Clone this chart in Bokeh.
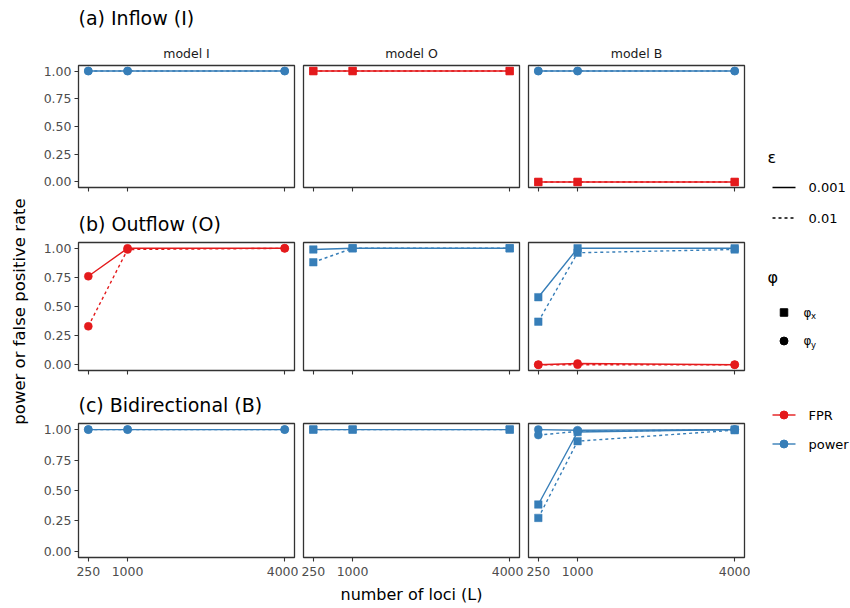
import math
from bokeh.plotting import figure
from bokeh.layouts import row, column
from bokeh.models import Range1d, FixedTicker, PrintfTickFormatter
from bokeh.core.properties import value
from bokeh.embed import file_html
from bokeh.resources import INLINE

# ---------------- data ----------------
L_VALUES = [250, 1000, 4000]
ROW_TITLES = ["(a) Inflow (I)", "(b) Outflow (O)", "(c) Bidirectional (B)"]
MODEL_LABELS = ["model I", "model O", "model B"]
EPS_LABELS = ["0.001", "0.01"]
METRIC_LABELS = ["FPR", "power"]
Y_TICKS = [0.0, 0.25, 0.5, 0.75, 1.0]
X_LABEL = "number of loci (L)"
Y_LABEL = "power or false positive rate"

# (a) Inflow (I)
a_I_power_phiy_e0001 = [1.00, 1.00, 1.00]
a_I_power_phiy_e001 = [1.00, 1.00, 1.00]
a_O_fpr_phix_e0001 = [1.00, 1.00, 1.00]
a_O_fpr_phix_e001 = [1.00, 1.00, 1.00]
a_B_power_phiy_e0001 = [1.00, 1.00, 1.00]
a_B_power_phiy_e001 = [1.00, 1.00, 1.00]
a_B_fpr_phix_e0001 = [0.00, 0.00, 0.00]
a_B_fpr_phix_e001 = [0.00, 0.00, 0.00]

# (b) Outflow (O)
b_I_fpr_phiy_e0001 = [0.76, 1.00, 1.00]
b_I_fpr_phiy_e001 = [0.33, 0.99, 1.00]
b_O_power_phix_e0001 = [0.99, 1.00, 1.00]
b_O_power_phix_e001 = [0.88, 1.00, 1.00]
b_B_power_phix_e0001 = [0.58, 1.00, 1.00]
b_B_power_phix_e001 = [0.37, 0.962, 0.99]
b_B_fpr_phiy_e0001 = [0.00, 0.01, 0.00]
b_B_fpr_phiy_e001 = [0.00, 0.00, 0.00]

# (c) Bidirectional (B)
c_I_power_phiy_e0001 = [1.00, 1.00, 1.00]
c_I_power_phiy_e001 = [1.00, 1.00, 1.00]
c_O_power_phix_e0001 = [1.00, 1.00, 1.00]
c_O_power_phix_e001 = [1.00, 1.00, 1.00]
c_B_power_phiy_e0001 = [1.00, 0.995, 1.00]
c_B_power_phiy_e001 = [0.955, 0.985, 1.00]
c_B_power_phix_e0001 = [0.385, 0.98, 1.00]
c_B_power_phix_e001 = [0.275, 0.905, 0.995]

# (row, column, metric, phi, epsilon, values)
SERIES = [
    (0, 0, "power", "y", "0.001", a_I_power_phiy_e0001),
    (0, 0, "power", "y", "0.01", a_I_power_phiy_e001),
    (0, 1, "FPR", "x", "0.001", a_O_fpr_phix_e0001),
    (0, 1, "FPR", "x", "0.01", a_O_fpr_phix_e001),
    (0, 2, "FPR", "x", "0.001", a_B_fpr_phix_e0001),
    (0, 2, "FPR", "x", "0.01", a_B_fpr_phix_e001),
    (0, 2, "power", "y", "0.001", a_B_power_phiy_e0001),
    (0, 2, "power", "y", "0.01", a_B_power_phiy_e001),
    (1, 0, "FPR", "y", "0.001", b_I_fpr_phiy_e0001),
    (1, 0, "FPR", "y", "0.01", b_I_fpr_phiy_e001),
    (1, 1, "power", "x", "0.001", b_O_power_phix_e0001),
    (1, 1, "power", "x", "0.01", b_O_power_phix_e001),
    (1, 2, "FPR", "y", "0.001", b_B_fpr_phiy_e0001),
    (1, 2, "FPR", "y", "0.01", b_B_fpr_phiy_e001),
    (1, 2, "power", "x", "0.001", b_B_power_phix_e0001),
    (1, 2, "power", "x", "0.01", b_B_power_phix_e001),
    (2, 0, "power", "y", "0.001", c_I_power_phiy_e0001),
    (2, 0, "power", "y", "0.01", c_I_power_phiy_e001),
    (2, 1, "power", "x", "0.001", c_O_power_phix_e0001),
    (2, 1, "power", "x", "0.01", c_O_power_phix_e001),
    (2, 2, "power", "x", "0.001", c_B_power_phix_e0001),
    (2, 2, "power", "x", "0.01", c_B_power_phix_e001),
    (2, 2, "power", "y", "0.001", c_B_power_phiy_e0001),
    (2, 2, "power", "y", "0.01", c_B_power_phiy_e001),
]

# ---------------- style ----------------
FONT = "DejaVu Sans"
COLORS = {"FPR": "#E41A1C", "power": "#377EB8"}
DASH = {"0.001": "solid", "0.01": "3 3"}
MARKER = {"x": "square", "y": "circle"}
MARKER_SIZE = {"x": 7.5, "y": 8}
LINE_W = 1.4
FRAME_COLOR = "#333333"
TICK_TEXT = "#4D4D4D"

FRAME_W = 216
FRAME_H = [122, 128, 134]
BORDER_L = [38, 5, 5]
BORDER_R = [4, 4, 6]
BORDER_T = 3
BORDER_B = [9, 8, 25]

# absolute layout (pixels)
COL_LEFT = [78, 303, 528]
HEADER_SPANS = [(0, 62), (196, 239), (378, 420)]
TITLE_Y = [17.5, 223, 404.5]
STRIP_Y = 52.5

xpad = 0.05 * (max(L_VALUES) - min(L_VALUES))
X_RANGE = (min(L_VALUES) - xpad, max(L_VALUES) + xpad)
ypad = 0.05 * (max(Y_TICKS) - min(Y_TICKS))
Y_RANGE = (min(Y_TICKS) - ypad, max(Y_TICKS) + ypad)


def canvas(x0, x1, y0, y1):
    p = figure(width=x1 - x0, height=y1 - y0,
               x_range=Range1d(x0, x1), y_range=Range1d(y1, y0),
               min_border=0, min_border_left=0, min_border_right=0,
               min_border_top=0, min_border_bottom=0,
               x_axis_location=None, y_axis_location=None,
               output_backend="svg", toolbar_location=None)
    p.xgrid.visible = False
    p.ygrid.visible = False
    p.outline_line_color = None
    p.background_fill_color = "white"
    p.border_fill_color = "white"
    return p


def panel(r, c):
    p = figure(width=BORDER_L[c] + FRAME_W + BORDER_R[c],
               height=BORDER_T + FRAME_H[r] + BORDER_B[r],
               x_range=Range1d(*X_RANGE), y_range=Range1d(*Y_RANGE),
               min_border_left=BORDER_L[c], min_border_right=BORDER_R[c],
               min_border_top=BORDER_T, min_border_bottom=BORDER_B[r],
               x_axis_location="below",
               y_axis_location="left" if c == 0 else None,
               output_backend="svg", toolbar_location=None)
    p.xgrid.visible = False
    p.ygrid.visible = False
    p.outline_line_color = FRAME_COLOR
    p.outline_line_width = 1.3
    p.outline_line_alpha = 1.0
    p.background_fill_color = "white"
    p.border_fill_color = "white"

    xa = p.xaxis[0]
    xa.ticker = FixedTicker(ticks=L_VALUES)
    xa.axis_line_color = None
    xa.major_tick_line_color = FRAME_COLOR
    xa.major_tick_line_width = 1.1
    xa.major_tick_in = 0
    xa.major_tick_out = 4
    xa.minor_tick_line_color = None
    xa.major_label_text_font = FONT
    if r == 2:
        xa.major_label_text_color = TICK_TEXT
        xa.major_label_text_font_size = "12.5px"
        xa.major_label_standoff = 5
    else:
        xa.major_label_text_color = None
        xa.major_label_text_font_size = "0px"
        xa.major_label_standoff = 0

    if c == 0:
        ya = p.yaxis[0]
        ya.ticker = FixedTicker(ticks=Y_TICKS)
        ya.formatter = PrintfTickFormatter(format="%.2f")
        ya.axis_line_color = None
        ya.major_tick_line_color = FRAME_COLOR
        ya.major_tick_line_width = 1.1
        ya.major_tick_in = 0
        ya.major_tick_out = 4
        ya.minor_tick_line_color = None
        ya.major_label_text_font = FONT
        ya.major_label_text_font_size = "12.5px"
        ya.major_label_text_color = TICK_TEXT
        ya.major_label_standoff = 3

    ser = [s for s in SERIES if s[0] == r and s[1] == c]
    for (_, _, metric, phi, eps, vals) in ser:
        p.line(L_VALUES, vals, line_color=COLORS[metric], line_width=LINE_W,
               line_dash=DASH[eps])
    for (_, _, metric, phi, eps, vals) in ser:
        p.scatter(L_VALUES, vals, marker=MARKER[phi], size=MARKER_SIZE[phi],
                  fill_color=COLORS[metric], line_color=COLORS[metric], line_width=0.5)
    return p


# headers
headers = []
for r in range(3):
    y0, y1 = HEADER_SPANS[r]
    h = canvas(40, 750, y0, y1)
    h.text(x=[COL_LEFT[0]], y=[TITLE_Y[r]], text=[ROW_TITLES[r]],
           text_font=value(FONT), text_font_size="19px", text_color="black",
           text_align="left", text_baseline="middle")
    if r == 0:
        h.text(x=[cl + FRAME_W / 2 for cl in COL_LEFT], y=[STRIP_Y] * 3, text=MODEL_LABELS,
               text_font=value(FONT), text_font_size="12.5px", text_color="#1A1A1A",
               text_align="center", text_baseline="middle")
    headers.append(h)

rows = [row(*[panel(r, c) for c in range(3)], spacing=0) for r in range(3)]

xlab = canvas(40, 750, 582, 608)
xlab.text(x=[(COL_LEFT[0] + COL_LEFT[2] + FRAME_W) / 2], y=[594], text=[X_LABEL],
          text_font=value(FONT), text_font_size="16px", text_color="black",
          text_align="center", text_baseline="middle")

ylab = canvas(0, 40, 0, 608)
ylab.text(x=[19], y=[311], text=[Y_LABEL], angle=math.pi / 2,
          text_font=value(FONT), text_font_size="16.5px", text_color="black",
          text_align="center", text_baseline="middle")

# legend
leg = canvas(750, 850, 0, 608)
KEY_X0, KEY_X1, KEY_XC, LAB_X = 772, 795, 783.5, 808
leg.text(x=[767], y=[157], text=["ε"], text_font=value(FONT), text_font_size="16px",
         text_color="black", text_align="left", text_baseline="middle")
for eps, yy in zip(EPS_LABELS, [187, 217.5]):
    leg.line([KEY_X0, KEY_X1], [yy, yy], line_color="black", line_width=LINE_W,
             line_dash=DASH[eps])
    leg.text(x=[LAB_X], y=[yy], text=[eps], text_font=value(FONT), text_font_size="13px",
             text_color="black", text_align="left", text_baseline="middle")
leg.text(x=[767], y=[277], text=["φ"], text_font=value(FONT), text_font_size="16px",
         text_color="black", text_align="left", text_baseline="middle")
for phi, yy in zip(["x", "y"], [312, 340.5]):
    leg.scatter([KEY_XC], [yy], marker=MARKER[phi], size=MARKER_SIZE[phi],
                fill_color="black", line_color="black")
    leg.text(x=[803], y=[yy], text=["φ"], text_font=value(FONT), text_font_size="12px",
             text_color="black", text_align="left", text_baseline="middle")
    leg.text(x=[810.5], y=[yy + 3.5], text=[phi], text_font=value(FONT), text_font_size="8.5px",
             text_color="black", text_align="left", text_baseline="middle")
for metric, yy in zip(METRIC_LABELS, [414.5, 443.5]):
    leg.line([KEY_X0, KEY_X1], [yy, yy], line_color=COLORS[metric], line_width=LINE_W)
    leg.scatter([KEY_XC], [yy], marker="circle", size=8,
                fill_color=COLORS[metric], line_color=COLORS[metric])
    leg.text(x=[LAB_X], y=[yy], text=[metric], text_font=value(FONT), text_font_size="13px",
             text_color="black", text_align="left", text_baseline="middle")

middle = column(headers[0], rows[0], headers[1], rows[1], headers[2], rows[2], xlab, spacing=0)
layout = row(ylab, middle, leg, spacing=0)

open("out.html", "w").write(file_html(layout, INLINE))
